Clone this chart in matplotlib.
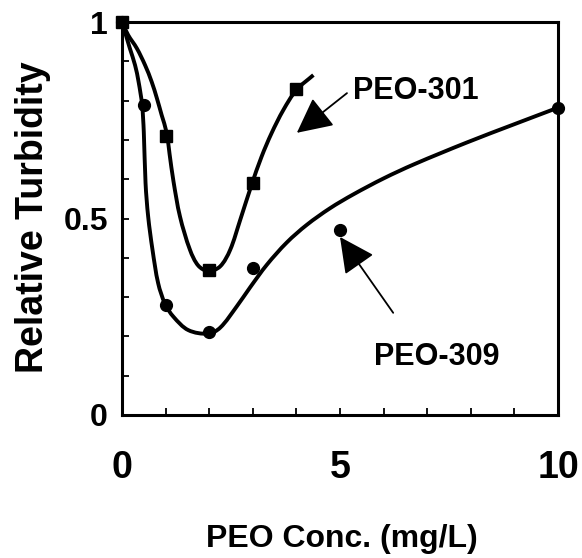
import numpy as np
import matplotlib
matplotlib.use("Agg")
import matplotlib.pyplot as plt
from matplotlib.path import Path
from matplotlib.patches import PathPatch

# Measured turbidity ratios
peo301_conc = [0, 1, 2, 3, 4]
peo301_turb = [1.0, 0.71, 0.37, 0.59, 0.83]
peo309_conc = [0, 0.5, 1, 2, 3, 5, 10]
peo309_turb = [1.0, 0.79, 0.28, 0.21, 0.375, 0.47, 0.78]

# Fitted trend curves (knots of the smooth lines)
fit301_x = [0, 0.14, 0.34, 0.53, 0.68, 0.80, 0.91, 1.02, 1.09, 1.18, 1.33, 1.56,
            1.75, 1.98, 2.25, 2.48, 2.71, 2.97, 3.20, 3.43, 3.70, 4.00, 4.39]
fit301_y = [1.0, 0.967, 0.933, 0.89, 0.848, 0.806, 0.763, 0.72, 0.665, 0.595, 0.505, 0.42,
            0.38, 0.366, 0.378, 0.42, 0.496, 0.585, 0.657, 0.717, 0.776, 0.827, 0.865]
fit309_x = [0, 0.18, 0.30, 0.38, 0.46, 0.50, 0.54, 0.60, 0.70, 0.83, 0.99, 1.18,
            1.52, 1.98, 2.25, 2.63, 2.94, 3.32, 3.78, 4.24, 4.77, 5.30, 6.00, 6.70,
            7.90, 9.00, 10.0]
fit309_y = [1.0, 0.933, 0.89, 0.848, 0.79, 0.72, 0.59, 0.505, 0.42, 0.335, 0.282, 0.25,
            0.216, 0.207, 0.222, 0.276, 0.325, 0.382, 0.439, 0.484, 0.526, 0.561, 0.602,
            0.638, 0.693, 0.740, 0.782]

x_ticks = [0, 5, 10]
x_ticklabels = ["0", "5", "10"]
y_ticks = [0, 0.5, 1]
y_ticklabels = ["0", "0.5", "1"]

FONT = "Liberation Sans"

W, H = 582, 558
fig = plt.figure(figsize=(W / 100, H / 100), dpi=100)
ax = fig.add_axes([122 / W, 1 - 415 / H, 436 / W, 393 / H])
ax.set_xlim(0, 10)
ax.set_ylim(0, 1)


def smooth_path(xs, ys, sx=43.6, sy=393.0):
    """Chord-length cubic Bezier path through the given knots."""
    p = np.column_stack([xs, ys]).astype(float)
    q = p * [sx, sy]
    d = np.hypot(*np.diff(q, axis=0).T)
    t = np.concatenate([[0], np.cumsum(d)])
    n = len(p)
    m = np.zeros_like(p)
    for i in range(n):
        a = max(i - 1, 0)
        b = min(i + 1, n - 1)
        m[i] = (p[b] - p[a]) / (t[b] - t[a])
    verts = [p[0]]
    codes = [Path.MOVETO]
    for i in range(n - 1):
        h = t[i + 1] - t[i]
        verts += [p[i] + m[i] * h / 3, p[i + 1] - m[i + 1] * h / 3, p[i + 1]]
        codes += [Path.CURVE4] * 3
    return Path(verts, codes)


for fx, fy in [(fit309_x, fit309_y), (fit301_x, fit301_y)]:
    ax.add_patch(PathPatch(smooth_path(fx, fy), fill=False, lw=2.8,
                           edgecolor="black", capstyle="butt", clip_on=False, zorder=3))

ax.plot(peo309_conc, peo309_turb, "o", color="black", ms=8.5, clip_on=False, zorder=4)
ax.plot(peo301_conc, peo301_turb, "s", color="black", ms=8.5, clip_on=False, zorder=5)

for side in ["left", "bottom", "top", "right"]:
    ax.spines[side].set_linewidth(2.2)

ax.set_xticks(x_ticks)
ax.set_xticklabels(x_ticklabels)
ax.set_yticks(y_ticks)
ax.set_yticklabels(y_ticklabels)
ax.set_xticks(np.arange(0, 11, 1), minor=True)
ax.set_yticks(np.arange(0, 1.01, 0.1), minor=True)
ax.tick_params(which="both", direction="in", length=5, width=1.3, top=False, right=False)
ax.tick_params(axis="x", which="major", pad=25)
ax.tick_params(axis="y", which="major", pad=10)
for lab in ax.get_xticklabels():
    lab.set_fontfamily(FONT)
    lab.set_fontweight("bold")
    lab.set_fontsize(27)
for lab in ax.get_yticklabels():
    lab.set_fontfamily(FONT)
    lab.set_fontweight("bold")
    lab.set_fontsize(23)

fig.text(342 / W, 1 - 547 / H, "PEO Conc. (mg/L)", family=FONT, weight="bold",
         fontsize=23, ha="center", va="baseline")
fig.text(33 / W, 1 - 217 / H, "Relative Turbidity", family=FONT, weight="bold",
         fontsize=27, ha="center", va="center", rotation=90)

arrow_style = dict(arrowstyle="-|>,head_length=1.0,head_width=0.5", mutation_scale=22,
                   color="black", lw=1.3, shrinkA=0, shrinkB=0)
ax.annotate("", xy=(4.01, 0.718), xytext=(5.16, 0.819), arrowprops=arrow_style)
ax.annotate("", xy=(5.0, 0.453), xytext=(6.22, 0.26), arrowprops=arrow_style)
ax.text(5.30, 0.804, "PEO-301", family=FONT, weight="bold", fontsize=22,
        ha="left", va="baseline")
ax.text(5.78, 0.127, "PEO-309", family=FONT, weight="bold", fontsize=22,
        ha="left", va="baseline")

fig.savefig("out.png", dpi=100)
